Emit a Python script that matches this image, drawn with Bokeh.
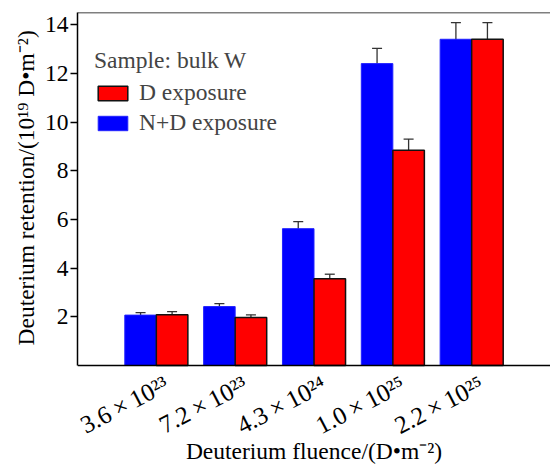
from bokeh.plotting import figure
from bokeh.models import (ColumnDataSource, Whisker, FixedTicker, Legend, LegendItem,
                          Span, TeeHead, Range1d, LabelSet, Label, Title)
from bokeh.embed import file_html
from bokeh.resources import INLINE

fluence_labels = ["3.6\u2009×\u200910²³", "7.2\u2009×\u200910²³", "4.3\u2009×\u200910²⁴",
                  "1.0\u2009×\u200910²⁵", "2.2\u2009×\u200910²⁵"]
nd_values = [2.07, 2.42, 5.62, 12.4, 13.4]
nd_err = [0.10, 0.12, 0.29, 0.63, 0.68]
d_values = [2.08, 1.97, 3.56, 8.84, 13.4]
d_err = [0.13, 0.11, 0.19, 0.46, 0.68]
y_ticks = [2, 4, 6, 8, 10, 12, 14]
x_title = "Deuterium fluence/(D•m⁻²)"
y_title = "Deuterium retention/(10¹⁹ D•m⁻²)"

FONT = "Liberation Serif"
FS = "23.5px"
TICK_FS = "25px"
BAR_W = 0.4
Y_MAX = 14.5
# the frame runs down to the page bottom; the room below y=0 holds the x labels
FRAME_H = 353
BOTTOM_ROOM = 99
Y_MIN = -Y_MAX * BOTTOM_ROOM / FRAME_H

groups = list(range(1, len(fluence_labels) + 1))
nd_src = ColumnDataSource(dict(
    x=[g - BAR_W / 2 for g in groups], top=nd_values,
    upper=[v + e for v, e in zip(nd_values, nd_err)],
    lower=[v - e for v, e in zip(nd_values, nd_err)]))
d_src = ColumnDataSource(dict(
    x=[g + BAR_W / 2 for g in groups], top=d_values,
    upper=[v + e for v, e in zip(d_values, d_err)],
    lower=[v - e for v, e in zip(d_values, d_err)]))
lab_src = ColumnDataSource(dict(x=groups, y=[0] * len(groups), text=fluence_labels))

p = figure(width=550, height=464, output_backend="svg", toolbar_location=None,
           x_range=Range1d(0, 6), y_range=Range1d(Y_MIN, Y_MAX),
           x_axis_location=None,
           min_border_left=77, min_border_top=12, min_border_bottom=0, min_border_right=0)
p.outline_line_color = None
p.xgrid.visible = False
p.ygrid.visible = False

r_nd = p.vbar(x="x", top="top", bottom=0, width=BAR_W, source=nd_src,
              fill_color="#0000FF", line_color="#2020FF", line_width=1)
r_d = p.vbar(x="x", top="top", bottom=0, width=BAR_W, source=d_src,
             fill_color="#FF0000", line_color="#111111", line_width=1.5)

for src in (nd_src, d_src):
    w = Whisker(base="x", upper="upper", lower="lower", source=src,
                line_color="#333333", line_width=1.3,
                upper_head=TeeHead(size=10, line_color="#333333", line_width=1.3),
                lower_head=TeeHead(size=10, line_color="#333333", line_width=1.3))
    p.add_layout(w)

# top border and x axis line
p.add_layout(Span(location=Y_MAX, dimension="width", line_color="black", line_width=1.5))
p.add_layout(Span(location=0, dimension="width", line_color="black", line_width=1.5))

# y axis
yax = p.yaxis[0]
yax.bounds = (0, Y_MAX)
yax.ticker = FixedTicker(ticks=y_ticks)
yax.minor_tick_line_color = None
yax.major_tick_in = 0
yax.major_tick_out = 7
yax.major_label_standoff = 2
yax.axis_line_color = "black"
yax.axis_line_width = 1.5
yax.major_tick_line_width = 1.5
yax.major_label_text_font = FONT
yax.major_label_text_font_size = FS
yax.major_label_text_color = "black"

# y axis title, aligned with the axis span rather than the whole frame
p.add_layout(Title(text=y_title, align="left", offset=BOTTOM_ROOM + 20, standoff=6,
                   text_font=FONT, text_font_size=FS, text_font_style="normal",
                   text_color="black"), "left")

# x tick labels (rotated) and x axis title
p.add_layout(LabelSet(x="x", y="y", text="text", source=lab_src, angle=0.48,
                      text_align="right", text_baseline="top", x_offset=4, y_offset=-5,
                      text_font=FONT, text_font_size=TICK_FS, text_color="black"))
p.add_layout(Label(x=3, y=1, y_units="screen", text=x_title, text_align="center",
                   text_baseline="bottom", text_font=FONT, text_font_size=FS,
                   text_color="black"))

legend = Legend(items=[LegendItem(label="D exposure", renderers=[r_d]),
                       LegendItem(label="N+D exposure", renderers=[r_nd])],
                title="Sample: bulk W", location=(17, 328),
                border_line_color=None, background_fill_alpha=0,
                label_text_font=FONT, label_text_font_size=FS,
                title_text_font=FONT, title_text_font_size=FS,
                title_text_font_style="normal", title_standoff=5,
                glyph_width=37, glyph_height=18, label_height=24, spacing=3,
                label_standoff=8, padding=0, margin=0)
p.add_layout(legend)

open("out.html", "w").write(file_html(p, INLINE))
